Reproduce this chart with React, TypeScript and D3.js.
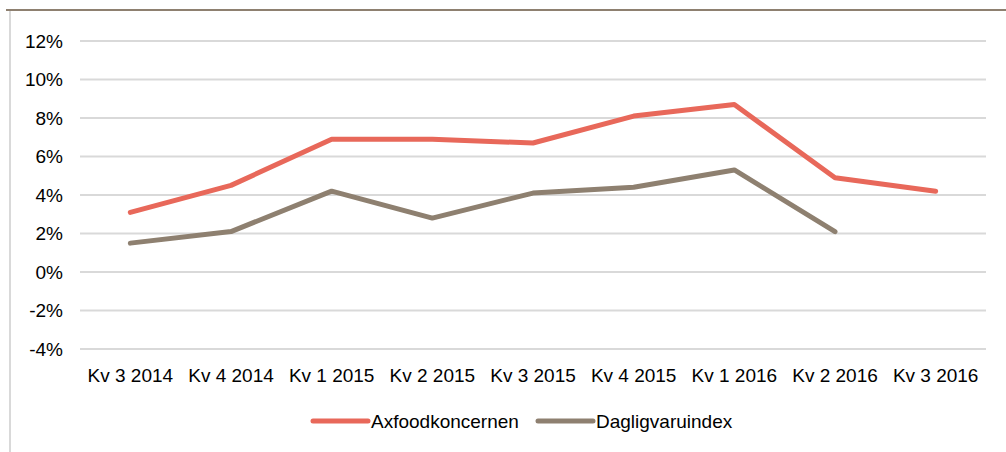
import React from "react";
import * as d3 from "d3";

const categories = ["Kv 3 2014", "Kv 4 2014", "Kv 1 2015", "Kv 2 2015", "Kv 3 2015", "Kv 4 2015", "Kv 1 2016", "Kv 2 2016", "Kv 3 2016"];
const axfood: (number | null)[] = [3.1, 4.5, 6.9, 6.9, 6.7, 8.1, 8.7, 4.9, 4.2];
const dagligvaruindex: (number | null)[] = [1.5, 2.1, 4.2, 2.8, 4.1, 4.4, 5.3, 2.1, null];
const yTicks = [-4, -2, 0, 2, 4, 6, 8, 10, 12];
const seriesNames = ["Axfoodkoncernen", "Dagligvaruindex"];
const colors = ["#E8685A", "#8E8070"];

const W = 1006, H = 452;
const FONT = "'Liberation Sans Narrow', 'Arial Narrow', 'Liberation Sans', sans-serif";

export default function App() {
  const x = d3.scalePoint<string>().domain(categories).range([80, 986]).padding(0.5);
  const y = d3.scaleLinear().domain([-4, 12]).range([349, 41]);
  const line = d3.line<number | null>()
    .defined(d => d !== null)
    .x((_, i) => x(categories[i]) as number)
    .y(d => y(d as number));
  const series = [axfood, dagligvaruindex];
  const legendX = [313, 538];
  return (
    <svg width={W} height={H} style={{ position: "absolute", left: 0, top: 0 }}>
      <rect width={W} height={H} fill="#fff" />
      <line x1={6} x2={W} y1={10} y2={10} stroke="#8E8070" strokeWidth={2} />
      <line x1={10} x2={10} y1={11} y2={H} stroke="#d9d9d9" strokeWidth={2} />
      {yTicks.map(t => (
        <g key={t}>
          <line x1={80} x2={986} y1={y(t)} y2={y(t)} stroke="#d9d9d9" strokeWidth={2} />
          <text x={63} y={y(t)} dy="0.35em" textAnchor="end" fontFamily={FONT} fontSize={19} fill="#000">{t}%</text>
        </g>
      ))}
      {categories.map(c => (
        <text key={c} x={x(c)} y={382} textAnchor="middle" fontFamily={FONT} fontSize={19} fill="#000">{c}</text>
      ))}
      {series.map((s, i) => (
        <path key={i} d={line(s) || ""} fill="none" stroke={colors[i]} strokeWidth={5} strokeLinecap="round" strokeLinejoin="round" />
      ))}
      {seriesNames.map((n, i) => (
        <g key={n}>
          <line x1={legendX[i]} x2={legendX[i] + 55} y1={421} y2={421} stroke={colors[i]} strokeWidth={5} strokeLinecap="round" />
          <text x={legendX[i] + 58} y={421} dy="0.35em" fontFamily={FONT} fontSize={19} fill="#000">{n}</text>
        </g>
      ))}
    </svg>
  );
}
